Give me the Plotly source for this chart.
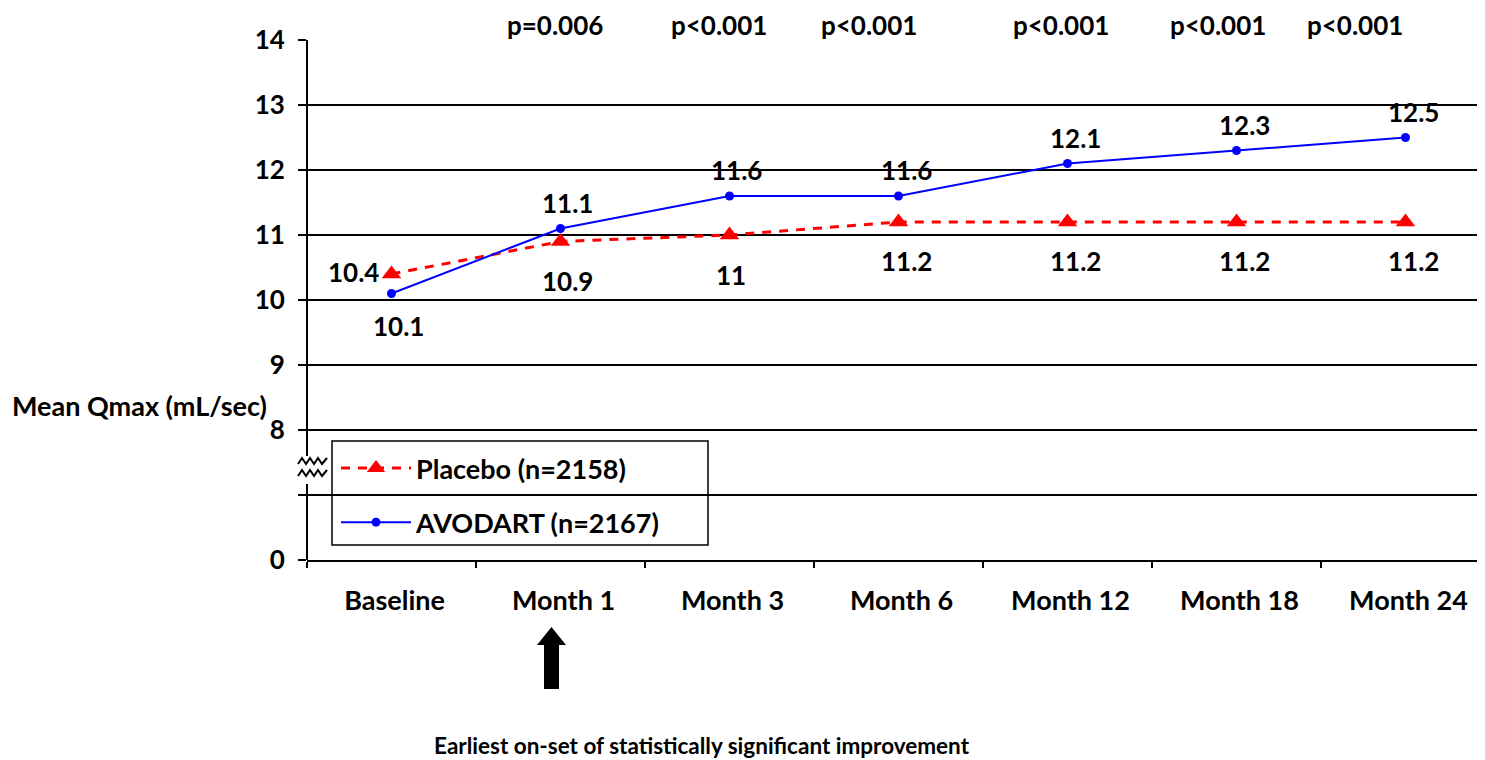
import plotly.graph_objects as go

# ---- data ----
categories = ["Baseline", "Month 1", "Month 3", "Month 6", "Month 12", "Month 18", "Month 24"]
placebo = [10.4, 10.9, 11, 11.2, 11.2, 11.2, 11.2]
avodart = [10.1, 11.1, 11.6, 11.6, 12.1, 12.3, 12.5]
p_categories = ["Month 1", "Month 3", "Month 6", "Month 12", "Month 18", "Month 24"]
p_values = ["p=0.006", "p<0.001", "p<0.001", "p<0.001", "p<0.001", "p<0.001"]
y_tickvals = [6, 7, 8, 9, 10, 11, 12, 13, 14]
y_ticktext = ["0", "", "8", "9", "10", "11", "12", "13", "14"]

# ---- layout geometry (page pixels; page body has an 8px margin) ----
OFF = 8
W, H = 1485, 760
L, R, T, B = 307, 1485, 40, 560
YMIN, YMAX = 6, 14
PXU = (B - T) / (YMAX - YMIN)

def px(x):
    return (x - L) / (R - L)

def py(y):
    return (B - y) / (B - T)

def yval(ypix):
    return YMAX - (ypix - T) / PXU

FONT = "Lato"
BOLD = dict(family=FONT, weight="bold", color="black")

fig = go.Figure()
fig.add_trace(go.Scatter(
    x=categories, y=placebo, mode="lines+markers", name="Placebo (n=2158)",
    line=dict(color="#FF0000", width=3, dash="9px,8px"),
    marker=dict(symbol="triangle-up", size=17, color="#FF0000"),
    legendgroup="p"))
fig.add_trace(go.Scatter(
    x=categories, y=avodart, mode="lines+markers", name="AVODART (n=2167)",
    line=dict(color="#0000FF", width=2),
    marker=dict(symbol="circle", size=9, color="#0000FF"),
    legendgroup="a"))

ann = []
# value labels
pl_dx = [-38, 7, 1, 8, 8, 8, 8]
pl_dy = [2, -39, -40, -39, -39, -39, -39]
av_dx = [7, 7, 7, 8, 8, 8, 8]
av_dy = [-32, 26, 26, 26, 26, 26, 26]
for i, c in enumerate(categories):
    ann.append(dict(x=c, y=placebo[i], xref="x", yref="y", text=f"{placebo[i]:g}",
                    showarrow=False, xshift=pl_dx[i], yshift=pl_dy[i],
                    font=dict(size=26, **BOLD)))
    ann.append(dict(x=c, y=avodart[i], xref="x", yref="y", text=f"{avodart[i]:g}",
                    showarrow=False, xshift=av_dx[i], yshift=av_dy[i],
                    font=dict(size=26, **BOLD)))
# p-values
p_dx = [-6, -11, -30, -7, -19, -51]
for c, t, dx in zip(p_categories, p_values, p_dx):
    ann.append(dict(x=c, y=py(25), xref="x", yref="paper", yanchor="middle", borderpad=0,
                    text=t, showarrow=False, xshift=dx, font=dict(size=26, **BOLD)))
# axis title
ann.append(dict(x=px(10), y=py(405), xref="paper", yref="paper", xanchor="left",
                yanchor="middle", text="Mean Qmax (mL/sec)", showarrow=False,
                font=dict(size=27, **BOLD)))
# footnote
ann.append(dict(x=px(702), y=py(745), xref="paper", yref="paper", xanchor="center",
                yanchor="middle", borderpad=0,
                text="Earliest on-set of statistically significant improvement",
                showarrow=False, font=dict(size=22.5, **BOLD)))

shapes = []
# legend frame (covers gridline, under traces)
shapes.append(dict(type="rect", xref="paper", yref="paper", layer="between",
                   x0=px(332), x1=px(708), y0=py(545), y1=py(441),
                   fillcolor="white", line=dict(color="black", width=1.5)))
# y axis line with break
shapes.append(dict(type="line", xref="paper", yref="y", x0=0, x1=0, y0=YMAX, y1=yval(456),
                   line=dict(color="black", width=2)))
shapes.append(dict(type="line", xref="paper", yref="y", x0=0, x1=0, y0=yval(484), y1=YMIN,
                   line=dict(color="black", width=2)))
# zigzag break marks
for yc in (461, 473):
    pts = []
    xs = [298, 302, 306, 310, 314, 318, 322, 327]
    for k, xx in enumerate(xs):
        yy = yc + (3 if k % 2 == 0 else -3)
        pts.append(f"{px(xx)},{yval(yy)}")
    shapes.append(dict(type="path", xref="paper", yref="y",
                       path="M" + " L".join(pts), line=dict(color="black", width=2)))
# arrow
arrow = [(551.5, 627), (566, 645), (559, 645), (559, 689), (544, 689), (544, 645), (537, 645)]
shapes.append(dict(type="path", xref="paper", yref="paper",
                   path="M" + " L".join(f"{px(a)},{py(b)}" for a, b in arrow) + " Z",
                   fillcolor="black", line=dict(color="black", width=0)))

fig.update_layout(
    width=W - OFF, height=H - OFF,
    margin=dict(l=L - OFF, r=W - R, t=T - OFF, b=H - B, pad=0),
    paper_bgcolor="white", plot_bgcolor="white",
    font=dict(family=FONT, color="black"),
    showlegend=True,
    legend=dict(x=px(336), y=py(444), xanchor="left", yanchor="top",
                bgcolor="rgba(0,0,0,0)", borderwidth=0,
                font=dict(size=27, **BOLD), tracegroupgap=16,
                traceorder="grouped", itemwidth=70),
    annotations=ann, shapes=shapes,
    xaxis=dict(type="category", categoryorder="array", categoryarray=categories,
               range=[-0.5, -0.5 + (R - L) / 169.0], tickson="boundaries",
               ticks="outside", ticklen=6, tickwidth=1.5, tickcolor="black",
               showline=True, linecolor="black", linewidth=2, showgrid=False,
               tickfont=dict(size=27, **BOLD), ticklabelstandoff=16, ticklabelshift=3,
               zeroline=False),
    yaxis=dict(range=[YMIN, YMAX], tickvals=y_tickvals, ticktext=y_ticktext,
               ticks="outside", ticklen=8, tickwidth=1.5, tickcolor="black",
               showline=False, showgrid=True, gridcolor="black", gridwidth=2,
               tickfont=dict(size=26, **BOLD), ticklabelstandoff=8, zeroline=False),
)

fig.write_html("out.html")
